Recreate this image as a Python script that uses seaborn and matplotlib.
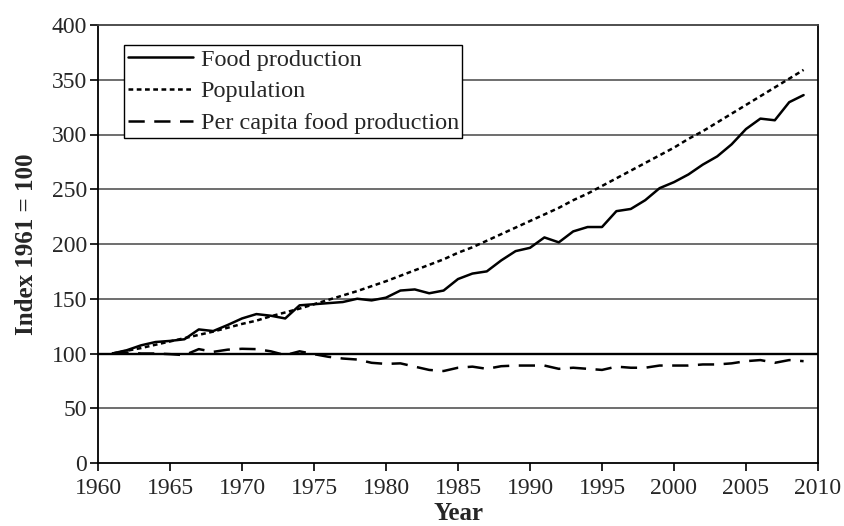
import numpy as np
import pandas as pd
import seaborn as sns
import matplotlib.pyplot as plt
from matplotlib.lines import Line2D

# data (index 1961 = 100)
years = list(range(1961, 2010))

food_production = [100, 103, 107.5, 110.5, 111.5, 113, 122, 120.5, 126, 132,
                   136, 134.5, 132, 144, 145, 146, 147, 150, 148.5, 151,
                   157.5, 158.5, 155, 157.5, 168, 173, 175, 185, 193.5, 196.5,
                   206, 201.5, 211.5, 215.5, 215.5, 230, 232, 240, 251, 256.5,
                   263.5, 272.5, 280, 291, 305, 314.5, 313, 329.5, 336]

population = [100, 102.5, 105, 108, 111, 114, 117, 120, 123.5, 127,
              130, 134, 137.5, 141, 145, 149, 153, 157, 161.5, 166,
              171, 176, 181, 186, 192, 197, 203, 209, 215, 221,
              227, 233, 240, 246, 253, 260, 267, 274, 281, 288,
              296, 303, 311, 319, 327, 335, 343, 351, 359]

per_capita = [100, 101, 100, 100, 99.4, 98.5, 104, 101.5, 103.5, 104.3,
              104, 102, 98.5, 102, 99.4, 97, 95.4, 94.5, 91.5, 90.5,
              91, 88, 85, 84, 87, 88, 86, 88.4, 89, 89,
              89, 86, 87, 86, 85, 88, 87, 87, 89, 89,
              89, 90, 90, 91, 93, 94, 91.5, 94, 93]

series_names = ["Food production", "Population", "Per capita food production"]

df = pd.DataFrame({
    "Year": years * 3,
    "Index": food_production + population + per_capita,
    "series": [series_names[0]] * len(years) + [series_names[1]] * len(years)
              + [series_names[2]] * len(years),
})

sns.set_style("white")
plt.rcParams["font.family"] = ["Liberation Serif", "DejaVu Serif"]

fig = plt.figure(figsize=(8.44, 5.26), dpi=100)
ax = fig.add_axes([98 / 844, 1 - 463 / 526, 720 / 844, 438 / 526])

# horizontal grid lines
for v in range(50, 400, 50):
    if v == 100:
        ax.axhline(v, color="black", lw=1.7, zorder=1)
    else:
        ax.axhline(v, color="#555555", lw=1.2, zorder=1)

pop_dash = (1.9, 1.4)
pc_dash = (6.5, 3.8)
sns.lineplot(data=df, x="Year", y="Index", style="series",
             dashes={series_names[0]: "",
                     series_names[1]: pop_dash,
                     series_names[2]: pc_dash},
             color="black", linewidth=1.8, ax=ax, legend=False, zorder=3)

ax.set_xlim(1960, 2010)
ax.set_ylim(0, 400)
ax.set_xticks(range(1960, 2011, 5))
ax.set_yticks(range(0, 401, 50))
ax.tick_params(axis="both", direction="out", length=6, width=1.2,
               color="black", labelsize=17, pad=2,
               bottom=True, left=True)
ax.tick_params(axis="x", pad=5)
for s in ax.spines.values():
    s.set_color("black")
    s.set_linewidth(1.3)
ax.spines["top"].set_color("#404040")

ax.set_xlabel("Year", fontsize=18, fontweight="bold", labelpad=2)
ax.set_ylabel("Index 1961 = 100", fontsize=18, fontweight="bold", labelpad=10)

# legend built from the same line styles
handles = [Line2D([], [], color="black", lw=1.8, linestyle="-"),
           Line2D([], [], color="black", lw=1.8, linestyle=(0, pop_dash)),
           Line2D([], [], color="black", lw=1.8, linestyle=(0, pc_dash))]
leg = ax.legend(handles, series_names, loc="upper left",
                bbox_to_anchor=(26 / 720, 1 - 20 / 438),
                fontsize=17.5, frameon=True, fancybox=False, framealpha=1,
                edgecolor="black", handlelength=2.7, handletextpad=0.3,
                labelspacing=0.4, borderpad=0.15, borderaxespad=0)
leg.get_frame().set_linewidth(1.0)
leg.set_zorder(5)

fig.savefig("out.png", dpi=100)
